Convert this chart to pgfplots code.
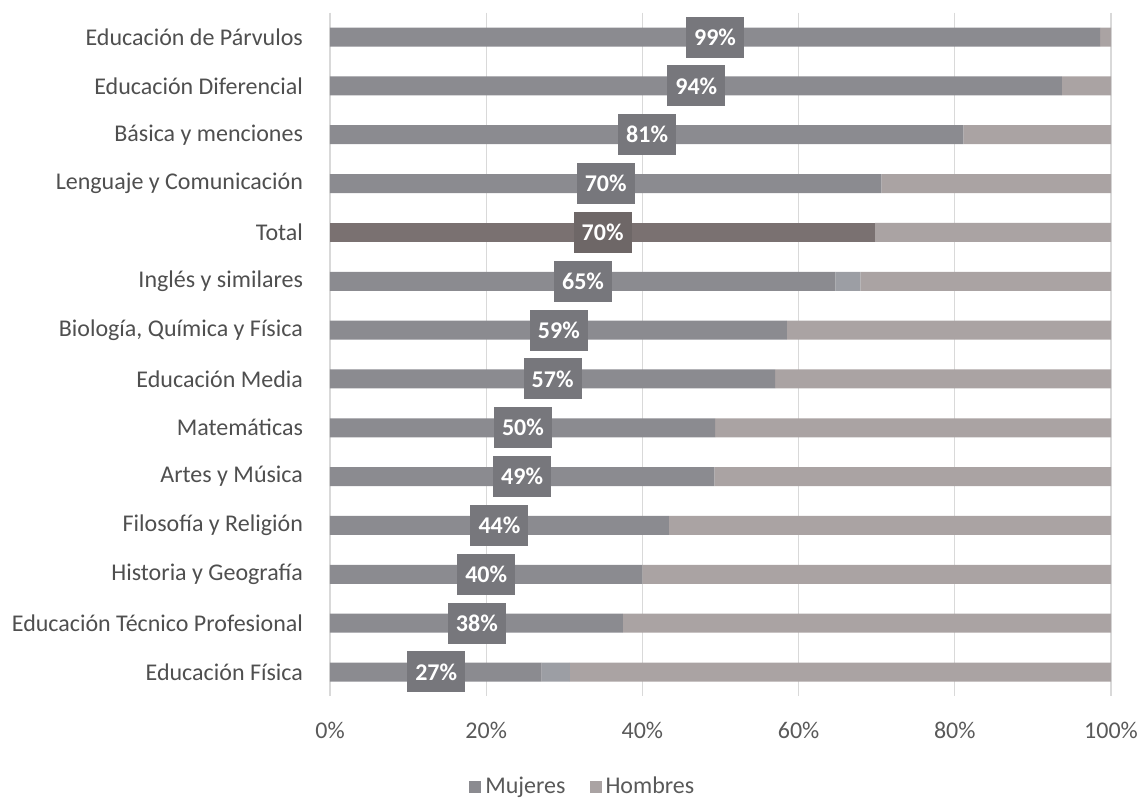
\documentclass[border=0pt]{standalone}
\usepackage{pgfplots}
\pgfplotsset{compat=1.18}
\usepackage{pgfplotstable}
\usepackage{fontspec}
\setmainfont{Carlito}
\definecolor{muj}{HTML}{8B8B90}
\definecolor{mujT}{HTML}{7A7171}
\definecolor{hom}{HTML}{AAA3A3}
\definecolor{otro}{HTML}{9C9EA4}
\definecolor{boxc}{HTML}{77777C}
\definecolor{boxT}{HTML}{6E6767}
\definecolor{gridc}{HTML}{D9D9D9}
\definecolor{txt}{HTML}{4F4F4F}
\definecolor{tickc}{HTML}{595959}
\newcommand{\fsz}{\fontsize{12}{14.4}\selectfont}

% y m(mujeres) mt(mujeres total) o(otro) h(hombres)
\pgfplotstableread{
y m mt o h
0 98.6 0 0 1.4
1 93.7 0 0 6.3
2 81.1 0 0 18.9
3 70.6 0 0 29.4
4 0 69.8 0 30.2
5 64.7 0 3.2 32.1
6 58.5 0 0 41.5
7 57.0 0 0 43.0
8 49.3 0 0 50.7
9 49.2 0 0 50.8
10 43.4 0 0 56.6
11 40.0 0 0 60.0
12 37.5 0 0 62.5
13 27.1 0 3.6 69.3
}\data

% label rows: y, position (centre of the women's bar), text
\pgfplotstableread{
y x lab
0 49.3 99\%
1 46.9 94\%
2 40.6 81\%
3 35.3 70\%
5 32.4 65\%
6 29.3 59\%
7 28.5 57\%
8 24.7 50\%
9 24.6 49\%
10 21.7 44\%
11 20.0 40\%
12 18.8 38\%
13 13.6 27\%
}\labels

\pgfplotsset{base/.style={at={(0,0)}, anchor=south west, scale only axis,
  width=390.5pt, height=341.9pt, xmin=0, xmax=100, ymin=-0.5, ymax=13.5,
  y dir=reverse}}

\begin{document}
\begin{tikzpicture}
\begin{axis}[base,
  xbar stacked, bar width=9.5pt,
  axis line style={draw=none},
  xmajorgrids, grid style={draw=gridc, line width=0.6pt},
  xtick={0,20,...,100},
  xticklabel={\pgfmathprintnumber{\tick}\%},
  /pgf/number format/assume math mode=true,
  ytick={0,...,13},
  yticklabels={Educación de Párvulos, Educación Diferencial, Básica y menciones,
    Lenguaje y Comunicación, Total, Inglés y similares,
    {Biología, Química y Física}, Educación Media, Matemáticas, Artes y Música,
    Filosofía y Religión, Historia y Geografía, Educación Técnico Profesional,
    Educación Física},
  major tick length=0pt,
  tick label style={font=\fsz},
  xticklabel style={text=tickc, yshift=-9.5pt},
  yticklabel style={text=txt, xshift=-10pt},
  legend image code/.code={\fill[#1] (-2pt,-3pt) rectangle (4pt,3pt);},
  legend style={at={(0.325,-0.132)}, anchor=center, draw=none, fill=none,
    legend columns=2, font=\fsz, text=tickc,
    /tikz/every even column/.append style={column sep=10pt}},
]
\addplot[fill=muj, draw=none] table[x=m, y=y] {\data};
\addlegendentry{Mujeres}
\addplot[fill=mujT, draw=none, forget plot] table[x=mt, y=y] {\data};
\addplot[fill=otro, draw=none, forget plot] table[x=o, y=y] {\data};
\addplot[fill=hom, draw=none] table[x=h, y=y] {\data};
\addlegendentry{Hombres}
\end{axis}
\begin{axis}[base, hide axis]
\addplot[draw=none, mark=none, nodes near coords, point meta=explicit symbolic,
  nodes near coords style={anchor=center, fill=boxc, text=white,
    font=\fsz\bfseries, minimum width=29pt, minimum height=20.5pt, inner sep=0pt}]
  table[x=x, y=y, meta=lab] {\labels};
\addplot[draw=none, mark=none, nodes near coords, point meta=explicit symbolic,
  nodes near coords style={anchor=center, fill=boxT, text=white,
    font=\fsz\bfseries, minimum width=29pt, minimum height=20.5pt, inner sep=0pt}]
  coordinates {(34.9,4) [70\%]};
\end{axis}
\pgfresetboundingbox
\path[use as bounding box] (-165pt,-51.3pt) rectangle (406.5pt,348.2pt);
\end{tikzpicture}
\end{document}
